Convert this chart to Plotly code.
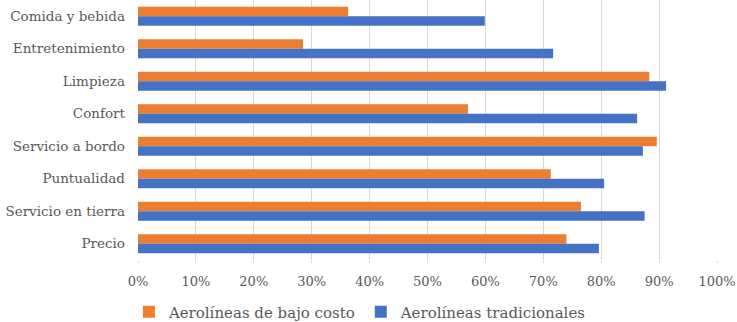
import plotly.graph_objects as go

categories = ["Comida y bebida", "Entretenimiento", "Limpieza", "Confort",
              "Servicio a bordo", "Puntualidad", "Servicio en tierra", "Precio"]
bajo_costo = [0.363, 0.285, 0.883, 0.570, 0.896, 0.713, 0.765, 0.740]
tradicionales = [0.599, 0.717, 0.912, 0.862, 0.872, 0.805, 0.875, 0.796]
series_names = ["Aerolíneas de bajo costo", "Aerolíneas tradicionales"]
tick_vals = [0, 0.1, 0.2, 0.3, 0.4, 0.5, 0.6, 0.7, 0.8, 0.9, 1.0]
tick_text = ["0%", "10%", "20%", "30%", "40%", "50%", "60%", "70%", "80%", "90%", "100%"]

font_family = "DejaVu Serif"
txt = "#595959"

fig = go.Figure()
fig.add_trace(go.Bar(y=categories, x=bajo_costo, orientation="h", name=series_names[0],
                     marker=dict(color="#ED7D31", line=dict(width=0))))
fig.add_trace(go.Bar(y=categories, x=tradicionales, orientation="h", name=series_names[1],
                     marker=dict(color="#4472C4", line=dict(width=0))))

fig.update_layout(
    width=737, height=322,
    margin=dict(l=138, r=20, t=0, b=62),
    paper_bgcolor="white", plot_bgcolor="white",
    barmode="group", bargap=0.42, bargroupgap=0,
    hovermode=False,
    font=dict(family=font_family, color=txt, size=14),
    xaxis=dict(range=[0, 1.0], tickvals=tick_vals, ticktext=tick_text,
               showgrid=True, gridcolor="#d9d9d9", gridwidth=1, zeroline=False,
               ticks="outside", ticklen=2, tickcolor="#d9d9d9", ticklabelstandoff=7,
               tickfont=dict(size=13, color=txt), showline=False, automargin=False),
    yaxis=dict(autorange="reversed", type="category", showgrid=False,
               ticks="", ticklabelstandoff=12, tickfont=dict(size=13.5, color=txt),
               showline=False, automargin=False),
    legend=dict(orientation="h", xref="container", yref="container",
                x=0.489, xanchor="center", y=10 / 322, yanchor="middle",
                font=dict(size=15, color=txt), itemwidth=30,
                traceorder="normal", itemclick=False),
    showlegend=True,
)

fig.write_html("out.html", config={"displayModeBar": False},
               post_script="document.body.style.margin='0px';")
